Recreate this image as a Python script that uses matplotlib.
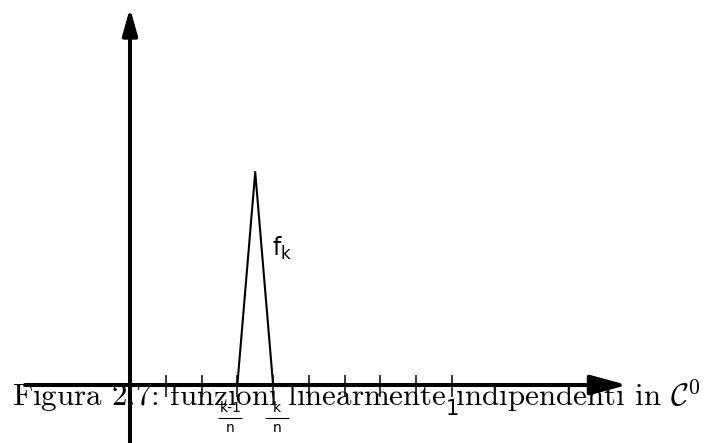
import matplotlib
matplotlib.use("Agg")
import matplotlib.pyplot as plt

# dati: tacche sull'asse x (k/n con n = 9) e la funzione a cappuccio f_k
n = 9
tick_x = [k / n for k in range(1, n + 1)]
hat_x = [3 / n, 3.5 / n, 4 / n]
hat_y = [0, 1, 0]
frac_num = ["k-1", "k"]
frac_den = ["n", "n"]
frac_x = [3 / n, 4 / n]
caption = r"Figura 2.7: funzioni linearmente indipendenti in $\mathcal{C}^0$"

fig = plt.figure(figsize=(7.06, 4.43), dpi=100)
ax = fig.add_axes([0, 0, 1, 1])
# 1 unita' x = 322 px, origine a 130 px; 1 unita' y = 213 px, asse a 385 px
ax.set_xlim(-130 / 322, 576 / 322)
ax.set_ylim(-58 / 213, 385 / 213)
ax.axis("off")

# assi con frecce
ax.annotate("", xy=(0, 377 / 213), xytext=(0, -58 / 213),
            arrowprops=dict(arrowstyle="-|>,head_length=1.6,head_width=0.45",
                            lw=2.9, color="black", shrinkA=0, shrinkB=0))
ax.annotate("", xy=(497 / 322, 0), xytext=(-105 / 322, 0),
            arrowprops=dict(arrowstyle="-|>,head_length=2.2,head_width=0.6",
                            lw=2.9, color="black", shrinkA=0, shrinkB=0))

# tacche
ax.vlines(tick_x, -12 / 213, 10 / 213, color="black", lw=1.1)

# funzione f_k
ax.plot(hat_x, hat_y, color="black", lw=1.5)
ax.text(hat_x[1] + 17 / 322, 0.64, r"$\mathrm{f}_{\mathrm{k}}$", fontsize=17,
        math_fontfamily="dejavusans", ha="left", va="center")

# etichette frazione sotto le tacche
for lx, dx, num, den in zip(frac_x, [-7, 4], frac_num, frac_den):
    cx = lx + dx / 322
    ax.text(cx, -23 / 213, num, fontsize=10, ha="center", va="center")
    ax.hlines(-33 / 213, cx - 12 / 322, cx + 12 / 322, color="black", lw=0.8)
    ax.text(cx, -43 / 213, den, fontsize=10, ha="center", va="center")
ax.text(tick_x[-1], -24 / 213, "1", fontsize=15, ha="center", va="center")

# didascalia
ax.text(-118 / 322, -22 / 213, caption, fontsize=22.3, family="cmr10",
        math_fontfamily="cm", ha="left", va="baseline")

fig.savefig("out.png", dpi=100)
